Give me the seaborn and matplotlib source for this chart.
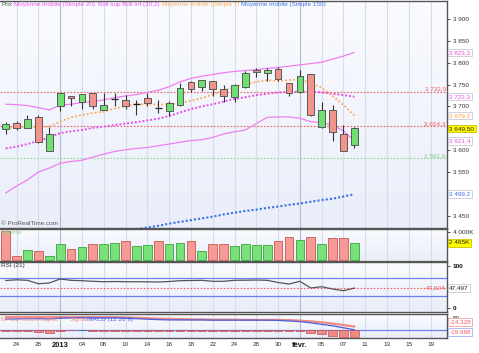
import numpy as np
import matplotlib
matplotlib.use('Agg')
import matplotlib.pyplot as plt
import seaborn as sns
from matplotlib.colors import LinearSegmentedColormap
from matplotlib.ticker import FuncFormatter

# daily candles, 21 Dec 2012 -> 8 Feb 2013 (one per trading day)
opens = [3648, 3661, 3651, 3675, 3598, 3702, 3723, 3709, 3730, 3692, 3716, 3715, 3706,
         3720, 3696, 3690, 3703, 3755, 3744, 3757, 3740, 3721, 3744, 3783, 3777, 3785,
         3753, 3732, 3774, 3652, 3692, 3638, 3612]
highs = [3665, 3667, 3680, 3680, 3654, 3731, 3724, 3729, 3731, 3730, 3730, 3725, 3715,
         3730, 3715, 3713, 3753, 3759, 3761, 3758, 3750, 3751, 3781, 3787, 3787, 3790,
         3754, 3783, 3775, 3709, 3703, 3657, 3652]
lows = [3636, 3646, 3650, 3616, 3597, 3690, 3702, 3693, 3693, 3691, 3701, 3693, 3680,
        3702, 3686, 3679, 3702, 3734, 3736, 3724, 3711, 3711, 3743, 3768, 3759, 3757,
        3724, 3731, 3679, 3651, 3621, 3598, 3604]
closes = [3660, 3650, 3671, 3618, 3638, 3730, 3719, 3728, 3702, 3703, 3716, 3701, 3706,
          3708, 3696, 3707, 3741, 3739, 3760, 3739, 3724, 3750, 3776, 3778, 3783, 3763,
          3731, 3770, 3680, 3692, 3642, 3599, 3649.5]
volumes = [4145, 617, 1500, 1352, 617, 2381, 1646, 1940, 2278, 2278, 2528, 2720, 2029,
           2234, 2675, 2278, 2470, 2675, 1352, 2278, 2278, 1985, 2381, 2234, 2234, 2675,
           3263, 2822, 3352, 2381, 3116, 3116, 2465]

ma7 = [3651, 3652, 3652, 3652, 3654, 3665, 3675, 3680, 3685, 3688, 3695, 3701, 3705,
       3705, 3704, 3705, 3708, 3713, 3719, 3727, 3736, 3744, 3751, 3756, 3760, 3758,
       3760, 3762, 3753, 3743, 3724, 3703, 3679.2]
ma20 = [3604, 3608, 3614, 3621, 3629, 3639, 3643, 3646, 3651, 3654, 3657, 3661, 3664,
        3668, 3672, 3678, 3686, 3694, 3700, 3705, 3711, 3717, 3721, 3726, 3729, 3732,
        3733, 3734, 3734, 3732, 3729, 3726, 3722.3]
boll_up = [3705, 3704, 3702, 3697, 3692, 3703, 3705, 3709, 3711, 3715, 3720, 3724, 3727,
           3732, 3737, 3745, 3756, 3764, 3769, 3773, 3777, 3780, 3782, 3784, 3787, 3789,
           3792, 3795, 3798, 3801, 3808, 3815, 3823.3]
boll_low = [3502, 3518, 3532, 3550, 3559, 3570, 3574, 3577, 3584, 3591, 3597, 3601, 3604,
            3606, 3610, 3614, 3618, 3622, 3624, 3629, 3637, 3642, 3646, 3661, 3675, 3676,
            3676, 3673, 3665, 3663, 3657, 3644, 3621.4]
ma150_start = 12
ma150 = [3419, 3423, 3427, 3432, 3436, 3440, 3444, 3448, 3453, 3457, 3461, 3464, 3468,
         3471, 3475, 3478, 3482, 3486, 3489, 3494, 3499.2]

rsi = [65.3, 66.9, 65.7, 57.7, 59.4, 68.8, 65.7, 64.8, 63.4, 62.4, 62.9, 62.4, 62.4, 62.2,
       61.7, 62.9, 64.8, 65.3, 65.7, 63.4, 63.4, 65.7, 66.0, 66.4, 65.7, 60.6, 57.0, 63.4,
       47.7, 50.7, 45.3, 41.3, 47.5]

macd = [44, 45, 46, 46, 45, 48, 49, 50, 49, 49, 49, 48, 46, 44, 42, 41, 41, 41, 41, 40,
        40, 40, 40, 40, 40, 39, 37, 34, 29, 23, 17, 9, 1]
signal = [52, 52, 52, 52, 52, 52, 52, 52, 52, 52, 52, 51, 50, 48, 46, 45, 44, 43, 43, 42,
          42, 42, 41, 41, 41, 41, 40, 38, 35, 31, 26, 20, 14]
hist = [-3, -3, -3, -10, -13, -3, -1, 2, -3, -4, -3, -4, -4, -4, -4, -5, -5, -4, -4, -4,
        -4, -4, -4, -4, -4, -4, -5, -4, -12, -18, -24, -28, -28]

tick_pos = [1, 3, 5, 7, 9, 11, 13, 15, 17, 19, 21, 23, 25, 27, 29, 31, 33, 35, 37, 39]
tick_labels = ['24', '28', '2013', '04', '08', '10', '14', '16', '18', '22', '24', '28',
               '30', 'févr.', '05', '07', '11', '13', '15', '19']
major_pos = [5, 27]
hidden_price_ticks = [3500, 3650]   # covered by the value tags in the reference

sns.set_style('white')
plt.rcParams['font.family'] = ['Liberation Sans', 'DejaVu Sans']

idx = np.arange(len(closes))
o = np.array(opens); c = np.array(closes)
h = np.array(highs); l = np.array(lows)

fig = plt.figure(figsize=(4.79, 3.53), dpi=100)
W = 447 / 479
ax = fig.add_axes([0, 1 - 228 / 353, W, 227 / 353])
axv = fig.add_axes([0, 1 - 260.5 / 353, W, 31.5 / 353], sharex=ax)
axr = fig.add_axes([0, 1 - 312 / 353, W, 50.5 / 353], sharex=ax)
axm = fig.add_axes([0, 1 - 338 / 353, W, 24 / 353], sharex=ax)

bg = LinearSegmentedColormap.from_list('bg', ['#e9eef9', '#fafbff'])
FS = 4.6
for a in [ax, axv, axr, axm]:
    a.imshow(np.linspace(0, 1, 64).reshape(-1, 1), cmap=bg, origin='lower',
             extent=[0, 1, 0, 1], transform=a.transAxes, aspect='auto', zorder=0)
    for p in tick_pos:
        a.axvline(p, color='#b3bbcc' if p in major_pos else '#d7dceb', lw=0.8, zorder=1)
    for s in a.spines.values():
        s.set_color('#555555')
        s.set_linewidth(1.0)
    a.spines['left'].set_visible(False)
    a.yaxis.tick_right()
    a.tick_params(axis='y', direction='out', length=2.5, width=0.6, labelsize=FS,
                  pad=1.5, colors='#333333')
    a.tick_params(axis='x', length=0, labelbottom=False)

ax.set_xlim(-0.52, 40.5)

# ---- prix ----
ax.axhline(3733.9, color='#f06060', ls=(0, (1.5, 1.5)), lw=0.8, zorder=2)
ax.axhline(3654.3, color='#f06060', ls=(0, (1.5, 1.5)), lw=0.8, zorder=2)
ax.axhline(3581.6, color='#99d499', ls=(0, (1.5, 1.5)), lw=0.8, zorder=2)

sns.lineplot(x=idx, y=boll_up, ax=ax, color='#f07ef0', lw=0.9, zorder=3)
sns.lineplot(x=idx, y=boll_low, ax=ax, color='#f07ef0', lw=0.9, zorder=3)
sns.lineplot(x=idx, y=ma20, ax=ax, color='#e64fe6', lw=1.4, ls=(0, (1, 1)), zorder=3)
sns.lineplot(x=idx, y=ma7, ax=ax, color='#ffaa55', lw=1.3, ls=(0, (1, 1.2)), zorder=3)
sns.lineplot(x=idx[ma150_start:], y=ma150, ax=ax, color='#3b6fe8', lw=1.5,
             ls=(0, (1, 1)), zorder=3)

doji = o == c
up = c > o
ax.vlines(idx, l, h, color='#333333', lw=0.8, zorder=4)
body_col = np.where(up, '#6fe06f', '#f4938c')
ax.bar(idx[~doji], np.abs(c - o)[~doji], bottom=np.minimum(o, c)[~doji], width=0.62,
       color=body_col[~doji], edgecolor='#5a5a5a', linewidth=0.7, zorder=5)
ax.hlines(c[doji], idx[doji] - 0.31, idx[doji] + 0.31, color='#222222', lw=0.9, zorder=5)

ax.set_ylim(3422, 3941)
ax.set_yticks(np.arange(3450, 3901, 50))
ax.yaxis.set_major_formatter(FuncFormatter(
    lambda v, _: '' if round(v) in hidden_price_ticks else f'{v:,.0f}'.replace(',', ' ')))


def tag(a, y, txt, col, fc='white', ec='#c4cad8'):
    a.text(1.005, y, txt, transform=a.get_yaxis_transform(), ha='left', va='center',
           fontsize=FS, color=col, clip_on=False, zorder=10,
           bbox=dict(boxstyle='square,pad=0.2', fc=fc, ec=ec, lw=0.6))


def inner(a, y, txt, col):
    a.text(0.997, y, txt, transform=a.get_yaxis_transform(), ha='right', va='bottom',
           fontsize=FS, color=col, zorder=10)


tag(ax, 3823.3, '3 823,3', '#e64fe6')
tag(ax, 3722.3, '3 722,3', '#e64fe6')
tag(ax, 3679.2, '3 679,2', '#ff9f40')
tag(ax, 3649.5, '3 649,50', '#222222', fc='#ffff00', ec='#d0c000')
tag(ax, 3621.4, '3 621,4', '#e64fe6')
tag(ax, 3499.2, '3 499,2', '#3b6fe8')
inner(ax, 3733.9, '3 733,9', '#f06060')
inner(ax, 3654.3, '3 654,3', '#f06060')
inner(ax, 3581.6, '3 581,6', '#88cc88')
ax.text(0.003, 0.008, '© ProRealTime.com', transform=ax.transAxes, fontsize=FS,
        color='#555555', va='bottom', zorder=10)

# legend line at the top
fig.text(0.004, 0.986, 'Prix', fontsize=FS, color='#555555', va='center')
fig.text(14 / 479, 0.986, 'Moyenne mobile (Simple 20)', fontsize=FS, color='#ee55ee', va='center')
fig.text(98 / 479, 0.986, 'Boll sup Boll inf (20,2)', fontsize=FS, color='#ee55ee', va='center')
fig.text(162 / 479, 0.986, 'Moyenne mobile (Simple 7)', fontsize=FS, color='#ffaa55', va='center')
fig.text(241 / 479, 0.986, 'Moyenne mobile (Simple 150)', fontsize=FS, color='#4477ee', va='center')

# ---- volume ----
vup = np.r_[False, np.diff(c) > 0]
axv.bar(idx, volumes, width=0.8, color=np.where(vup, '#79e179', '#f59a95'),
        edgecolor=np.where(vup, '#3aa53a', '#cc5555'), linewidth=0.6, zorder=3)
axv.set_ylim(-70, 4480)
axv.set_yticks([4000])
axv.set_yticklabels(['4 000K'])
axv.text(0.003, 0.97, 'Volume', transform=axv.transAxes, fontsize=FS, color='#8fd48f',
         va='top', zorder=10)
tag(axv, 2465, '2 465K', '#222222', fc='#ffff00', ec='#d0c000')

# ---- RSI ----
axr.axhline(70, color='#6f7ff0', lw=0.9, zorder=2)
axr.axhline(30, color='#6f7ff0', lw=0.9, zorder=2)
axr.axhline(47.504, color='#f06060', ls=(0, (1.5, 1.5)), lw=0.8, zorder=2)
sns.lineplot(x=idx, y=rsi, ax=axr, color='#555555', lw=0.9, zorder=3)
axr.set_ylim(-8.7, 109.9)
axr.set_yticks([0, 100])
axr.set_yticklabels(['0', '100'], fontweight='bold', color='#111111')
axr.text(0.003, 0.97, 'RSI (21)', transform=axr.transAxes, fontsize=FS, color='#333333',
         va='top', zorder=10)
tag(axr, 47.497, '47,497', '#222222')
axr.text(0.997, 47.504, '47,504', transform=axr.get_yaxis_transform(), ha='right',
         va='center', fontsize=FS, color='#f06060', zorder=10)

# ---- MACD ----
axm.axhline(0, color='#6f7ff0', lw=0.9, zorder=2)
axm.bar(idx, hist, width=0.8, color=np.where(np.array(hist) > 0, '#40a080', '#f08a84'),
        edgecolor=np.where(np.array(hist) > 0, '#207050', '#c05050'), linewidth=0.5, zorder=3)
sns.lineplot(x=idx, y=signal, ax=axm, color='#f08a84', lw=1.6, zorder=4)
sns.lineplot(x=idx, y=macd, ax=axm, color='#4a5fe0', lw=0.9, zorder=5)
axm.set_ylim(-32.5, 65)
axm.set_yticks([50])
axm.set_yticklabels(['50'])
axm.text(0.003, 0.88, 'MACD moins Signal', transform=axm.transAxes, fontsize=FS,
         color='#f08a84', va='top', zorder=10)
axm.text(0.155, 0.88, 'Signal', transform=axm.transAxes, fontsize=FS,
         color='#f08a84', va='top', zorder=10)
axm.text(0.195, 0.88, 'MACD (12 26 9)', transform=axm.transAxes, fontsize=FS,
         color='#4a5fe0', va='top', zorder=10)
axm.text(1.005, 0.67, '-14,328', transform=axm.transAxes, ha='left', va='center',
         fontsize=FS, color='#f06060', clip_on=False, zorder=10,
         bbox=dict(boxstyle='square,pad=0.2', fc='white', ec='#f0a0a0', lw=0.6))
axm.text(1.005, 0.24, '-19,988', transform=axm.transAxes, ha='left', va='center',
         fontsize=FS, color='#f06060', clip_on=False, zorder=10,
         bbox=dict(boxstyle='square,pad=0.2', fc='white', ec='#a0b0f0', lw=0.6))

axm.set_xticks(tick_pos)
axm.set_xticklabels(tick_labels)
axm.tick_params(axis='x', labelbottom=True, labelsize=FS, pad=3, colors='#333333')
for t in axm.get_xticklabels():
    if t.get_text() in ('2013', 'févr.'):
        t.set_fontweight('bold')
        t.set_fontsize(5.4)
        t.set_color('#111111')

fig.savefig('out.png', dpi=100, facecolor='white')
